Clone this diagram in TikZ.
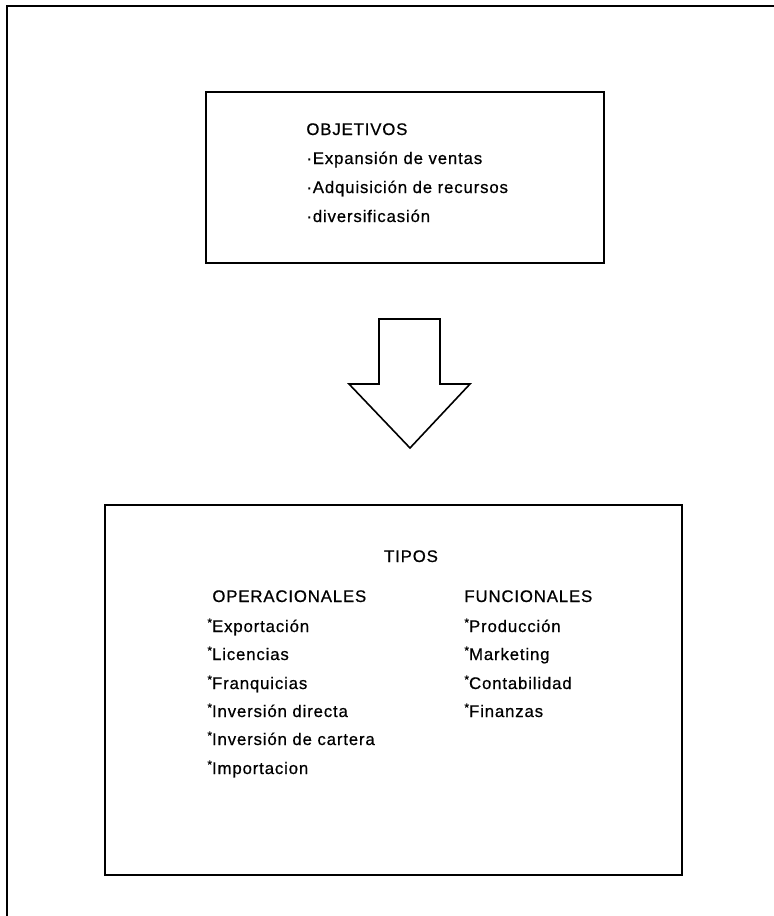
\documentclass[tikz,border=0pt]{standalone}
\usepackage{fontspec}
\setmainfont{Liberation Sans}[LetterSpace=5,FakeBold=0.6]
\usetikzlibrary{positioning}
\tikzset{
    frame/.style={draw,line width=1pt},
    box/.style={draw,line width=1pt,inner sep=0pt},
    item/.style={anchor=base west,inner sep=0pt,font=\fontsize{8.4}{10}\selectfont},
    head/.style={anchor=base,inner sep=0pt,font=\fontsize{8.4}{10}\selectfont},
    bigarrow/.style={draw,line width=0.8pt,line join=miter}
}
\newcommand{\dotmark}{\textperiodcentered}
\newcommand{\starmark}{\raisebox{0.6ex}{\fontsize{6}{6}\selectfont*}}

\begin{document}
\begin{tikzpicture}[x=0.5pt,y=-0.5pt]

    \useasboundingbox (0,0) rectangle (774,916);

    % outer frame of the page
    \draw[frame] (7,916) -- (7,6) -- (774,6);

    % boxes
    \node[box,minimum width=199pt,minimum height=85.5pt] (objetivos) at (405,177.5) {};
    \node[box,minimum width=288.5pt,minimum height=185pt] (tipos) at (393.5,690) {};

    % objetivos
    \node[item] (obj title) at (306,135) {OBJETIVOS};
    \node[item] (obj 1) at (306,164) {\dotmark Expansión de ventas};
    \node[item] (obj 2) at (306,193) {\dotmark Adquisición de recursos};
    \node[item] (obj 3) at (306,222) {\dotmark diversificasión};

    % arrow between the boxes
    \draw[bigarrow] (379,319) -- (440,319) -- (440,384) -- (470,384)
        -- (410,448) -- (349,384) -- (379,384) -- cycle;

    % tipos
    \node[head] (tipos title) at (411,562) {TIPOS};

    \node[item] (op title) at (212,602) {OPERACIONALES};
    \node[item] (op 1) at (207,632) {\starmark Exportación};
    \node[item] (op 2) at (207,660) {\starmark Licencias};
    \node[item] (op 3) at (207,689) {\starmark Franquicias};
    \node[item] (op 4) at (207,717) {\starmark Inversión directa};
    \node[item] (op 5) at (207,745) {\starmark Inversión de cartera};
    \node[item] (op 6) at (207,774) {\starmark Importacion};

    \node[item] (fun title) at (464,602) {FUNCIONALES};
    \node[item] (fun 1) at (464,632) {\starmark Producción};
    \node[item] (fun 2) at (464,660) {\starmark Marketing};
    \node[item] (fun 3) at (464,689) {\starmark Contabilidad};
    \node[item] (fun 4) at (464,717) {\starmark Finanzas};

\end{tikzpicture}
\end{document}
